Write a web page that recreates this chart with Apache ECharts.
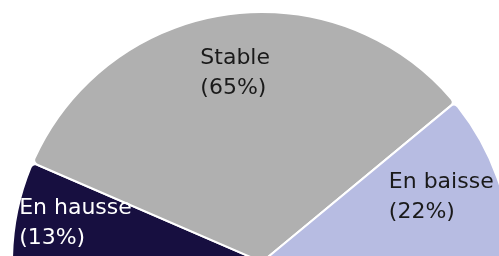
<!DOCTYPE html>
<html>
<head>
<meta charset="utf-8">
<script src="https://cdn.jsdelivr.net/npm/echarts@6/dist/echarts.min.js"></script>
<style>
html, body { margin: 0; padding: 0; background: #fff; }
#main { width: 499px; height: 256px; }
</style>
</head>
<body>
<div id="main"></div>
<script>
// tendance
var categories = ['En hausse', 'Stable', 'En baisse'];
var values = [13, 65, 22];
var colors = ['#170f40', '#b0b0b0', '#b7bce2'];
var labelColors = ['#ffffff', '#1a1a1a', '#1a1a1a'];

var pieCenter = [262, 262];
var pieRadius = 250;

var pieData = [];
var labelData = [];
for (var i = 0; i < categories.length; i++) {
    pieData.push({
        name: categories[i],
        value: values[i],
        itemStyle: { color: colors[i] }
    });
    labelData.push({
        name: categories[i],
        value: values[i],
        label: { rich: { a: { color: labelColors[i] } } }
    });
}

var myChart = echarts.init(document.getElementById('main'));
var option = {
    animation: false,
    series: [
        {
            type: 'pie',
            center: pieCenter,
            radius: [0, pieRadius],
            startAngle: 180,
            endAngle: 0,
            clockwise: true,
            silent: true,
            itemStyle: {
                borderColor: '#ffffff',
                borderWidth: 2,
                borderRadius: 5
            },
            label: { show: false },
            labelLine: { show: false },
            data: pieData
        },
        {
            // calque transparent, seulement pour placer les libellés
            type: 'pie',
            center: pieCenter,
            radius: [pieRadius * 0.5, pieRadius],
            startAngle: 180,
            endAngle: 0,
            clockwise: true,
            silent: true,
            itemStyle: { color: 'transparent' },
            label: {
                show: true,
                position: 'inside',
                formatter: '{a|{b}}\n{a|({d}%)}',
                rich: {
                    a: {
                        align: 'left',
                        fontFamily: 'DejaVu Sans',
                        fontSize: 22,
                        lineHeight: 30
                    }
                }
            },
            labelLine: { show: false },
            data: labelData
        }
    ]
};
myChart.setOption(option);
</script>
</body>
</html>
